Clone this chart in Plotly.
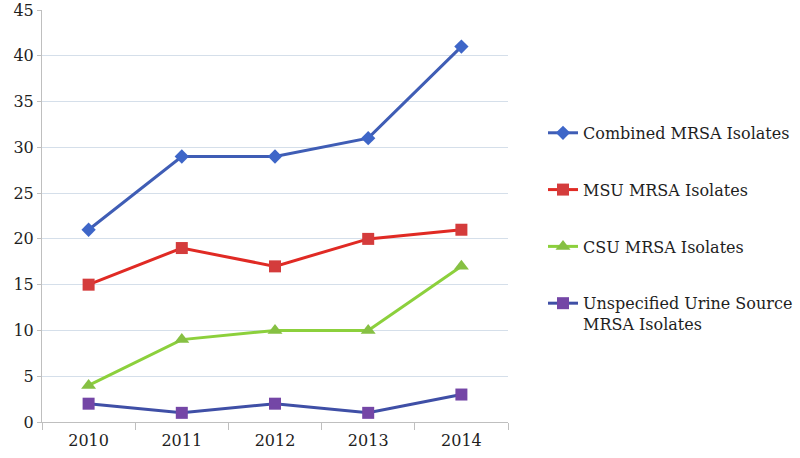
import plotly.graph_objects as go

years = ["2010", "2011", "2012", "2013", "2014"]
combined = [21, 29, 29, 31, 41]
msu = [15, 19, 17, 20, 21]
csu = [4, 9, 10, 10, 17]
unspecified = [2, 1, 2, 1, 3]

names = ["Combined MRSA Isolates", "MSU MRSA Isolates", "CSU MRSA Isolates",
         "Unspecified Urine Source<br>MRSA Isolates"]

FONT = "DejaVu Serif"
TXT = "#1E1E1E"

fig = go.Figure()
styles = [
    (combined, "#3F5DB5", "#3E66C8", "diamond", 11),
    (msu, "#E02A24", "#D43C3C", "square", 12),
    (csu, "#8CD03C", "#86C043", "triangle-up", 13),
    (unspecified, "#3F4FA6", "#7446A6", "square", 12),
]
for i, (vals, lc, mc, sym, sz) in enumerate(styles):
    fig.add_trace(go.Scatter(
        x=years, y=vals, name=names[i], mode="lines+markers",
        line=dict(color=lc, width=3),
        marker=dict(color=mc, symbol=sym, size=sz),
        legendgroup=f"g{i}",
    ))

L, R = 42, 0
PW = 800 - L - R
fig.update_layout(
    width=800, height=458,
    margin=dict(l=L, r=R, t=10, b=36),
    paper_bgcolor="white", plot_bgcolor="white",
    font=dict(family=FONT, size=16, color=TXT),
    showlegend=True,
    legend=dict(x=(543 - L) / PW, xanchor="left", y=0.743, yanchor="top",
                tracegroupgap=33, valign="top",
                font=dict(family=FONT, size=16, color=TXT),
                bgcolor="rgba(0,0,0,0)"),
    xaxis=dict(type="category", range=[-0.5, 4.5], showgrid=False,
               domain=[0, (508 - L) / PW],
               showline=True, linecolor="#BFBFBF", linewidth=1,
               ticks="outside", tickson="boundaries", ticklen=7,
               ticklabelstandoff=4,
               tickcolor="#BFBFBF", automargin=False,
               tickfont=dict(family=FONT, size=16, color=TXT)),
    yaxis=dict(range=[0, 45], dtick=5, showgrid=True, gridcolor="#D5DFEA",
               gridwidth=1, showline=True, linecolor="#BFBFBF", linewidth=1,
               ticks="outside", ticklen=4, tickcolor="#BFBFBF",
               zeroline=False, automargin=False,
               tickfont=dict(family=FONT, size=16, color=TXT)),
)

fig.write_html("out.html", config={"displayModeBar": False},
               post_script="document.body.style.margin='0';document.body.style.overflow='hidden';")
